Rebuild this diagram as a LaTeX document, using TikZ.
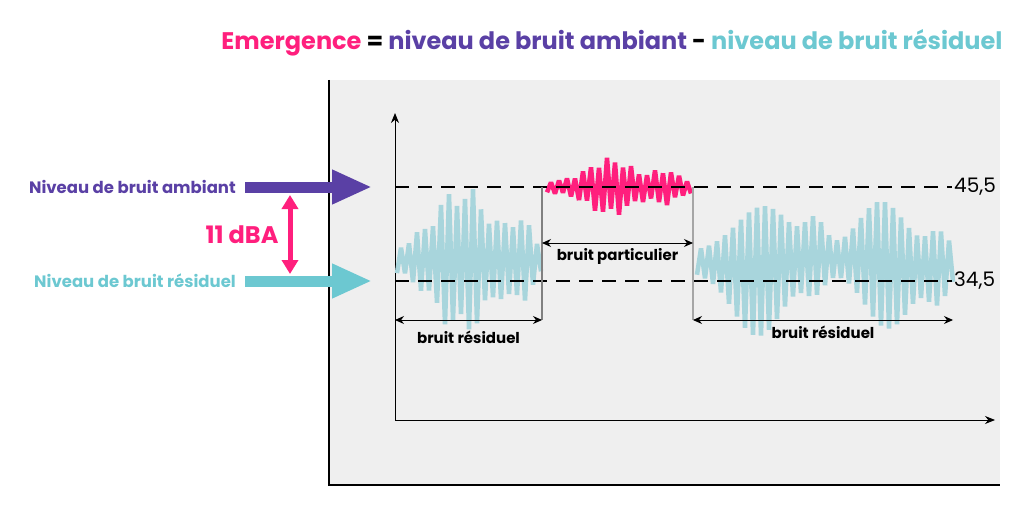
\documentclass[tikz,border=0pt]{standalone}
\usepackage{fontspec}
\setmainfont{Poppins}
\usetikzlibrary{arrows.meta, positioning}
\definecolor{emerg}{HTML}{FF1F7D}
\definecolor{ambiant}{HTML}{5A40A5}
\definecolor{resid}{HTML}{6CC8D1}
\definecolor{wave}{HTML}{A8D5DC}
\definecolor{panel}{HTML}{EFEFEF}
\tikzset{
  dashline/.style={line width=2pt, dash pattern=on 14pt off 9pt},
  dimarrow/.style={line width=1pt, {Stealth[length=9pt,width=8pt]}-{Stealth[length=9pt,width=8pt]}},
  bigarrow/.style={line width=11pt, -{Triangle[length=40pt,width=32pt]}},
  wavy/.style={line width=4.5pt, line join=bevel},
  dimlabel/.style={font=\fontsize{15}{18}\selectfont\bfseries, inner sep=2pt},
  levellabel/.style={font=\fontsize{20}{24}\selectfont, anchor=west, inner sep=2pt},
  sidelabel/.style={font=\fontsize{16.5}{20}\selectfont\bfseries, inner sep=4pt}
}

\begin{document}
\begin{tikzpicture}[x=1pt, y=-1pt]
\useasboundingbox (0,0) rectangle (1028,508);

% titre
\node[font=\fontsize{24}{28}\selectfont\bfseries] (titre) at (612,43)
  {\textcolor{emerg}{Emergence} = \textcolor{ambiant}{niveau de bruit ambiant} - \textcolor{resid}{niveau de bruit résiduel}};

% fond et cadre
\fill[panel] (329,80) rectangle (1000,485);
\draw[line width=1.5pt] (329,80) -- (329,485) -- (1000,485);

% axes
\coordinate (o) at (395,420);
\coordinate (ytop) at (395,113);
\coordinate (xend) at (995,420);
\draw[line width=1pt, -{Stealth[length=10pt,width=8pt]}] (o) -- (ytop);
\draw[line width=1pt, -{Stealth[length=10pt,width=8pt]}] (o) -- (xend);

% signaux
\draw[wave, wavy] plot[domain=397:541, samples=37]
  (\x, {260 + (12 + 64*exp(-((\x-462)/38)^2) + 30*exp(-((\x-520)/14)^2))*cos(45*(\x-397))*(0.85+0.15*sin(77*(\x-397)))});
\draw[wave, wavy] plot[domain=697:953, samples=65]
  (\x, {262 + (12 + 64*exp(-((\x-760)/36)^2) + 28*exp(-((\x-815)/14)^2) + 62*exp(-((\x-885)/32)^2) + 28*exp(-((\x-938)/14)^2))*cos(45*(\x-697))*(0.85+0.15*sin(47*(\x-697)))});
\draw[emerg, wavy] plot[domain=547:691, samples=37]
  (\x, {187 + (6 + 24*exp(-((\x-610)/30)^2) + 12*exp(-((\x-665)/16)^2))*cos(45*(\x-547))*(0.85+0.15*sin(61*(\x-547)))});

% niveaux
\node[levellabel] (n455) at (952,187) {45,5};
\node[levellabel] (n345) at (952,281) {34,5};
\coordinate (a0) at (395,187);
\coordinate (r0) at (395,281);
\draw[dashline] (a0) -- (n455.west);
\draw[dashline] (r0) -- (n345.west);

% limites
\coordinate (p1) at (542,187);
\coordinate (p1b) at (542,320);
\coordinate (p2) at (693,187);
\coordinate (p2b) at (693,320);
\draw[gray, line width=1.3pt] (p1) -- (p1b);
\draw[gray!70, line width=2pt] (p2) -- (p2b);

% cotes
\coordinate (c1) at (395,320);
\coordinate (c2) at (693,243);
\coordinate (c3) at (542,243);
\coordinate (c4) at (953,320);
\draw[dimarrow] (c1) -- (p1b) node[dimlabel, midway, below=8pt] (res1) {bruit résiduel};
\draw[dimarrow] (c3) -- (c2) node[dimlabel, midway, below=3pt] (part) {bruit particulier};
\draw[dimarrow] (p2b) -- (c4) node[dimlabel, midway, below=3pt] (res2) {bruit résiduel};

% legende gauche
\node[sidelabel, ambiant, anchor=east] (amb) at (240,187) {Niveau de bruit ambiant};
\node[sidelabel, resid, anchor=east] (res) at (240,281) {Niveau de bruit résiduel};
\coordinate (ambtip) at (372,187);
\coordinate (restip) at (372,281);
\draw[bigarrow, ambiant] (amb.east) ++(5,0) coordinate (amb0) -- (ambtip);
\draw[bigarrow, resid] (res.east) ++(5,0) coordinate (res0) -- (restip);

\coordinate (e1) at (290,195);
\coordinate (e2) at (290,274);
\draw[emerg, line width=5pt, {Triangle[length=14pt,width=16pt]}-{Triangle[length=14pt,width=16pt]}] (e1) -- (e2);
\node[emerg, font=\fontsize{24}{28}\selectfont\bfseries, anchor=east] (dba) at (282,235) {11 dBA};
\end{tikzpicture}
\end{document}
